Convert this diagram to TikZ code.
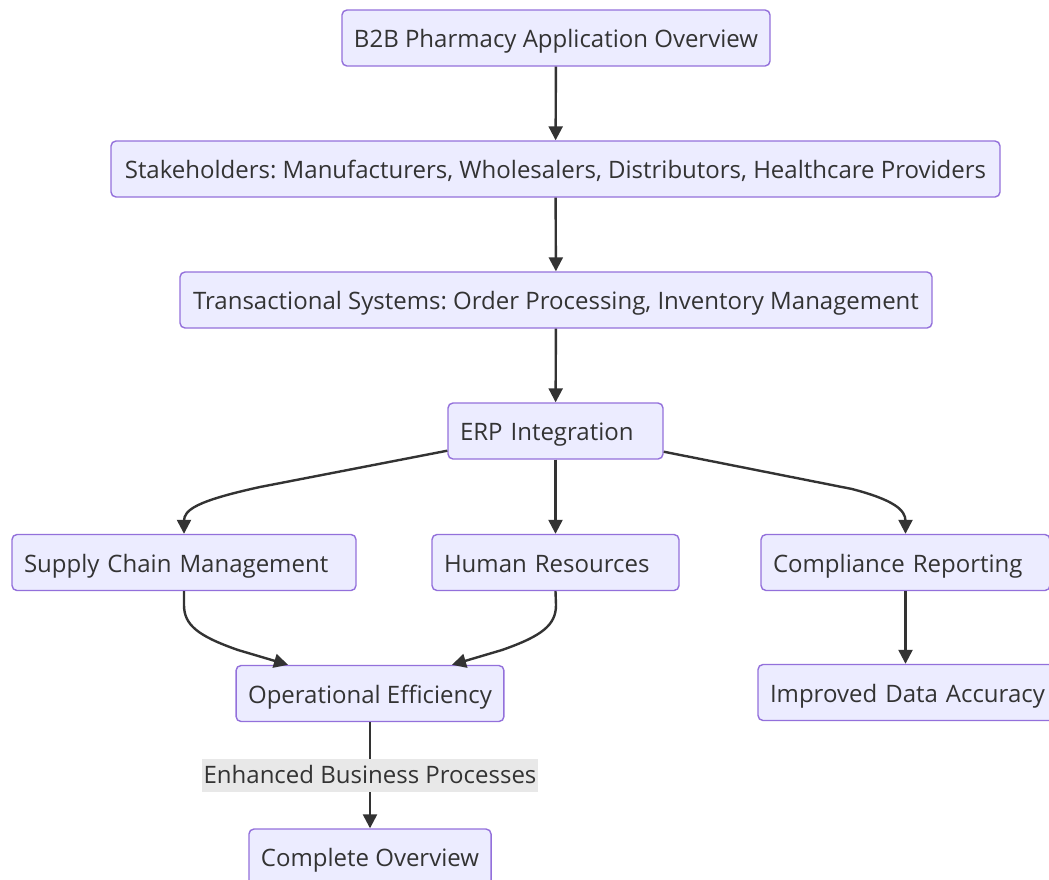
\documentclass[tikz,border=0pt]{standalone}
\usepackage{fontspec}
\setmainfont{Open Sans}
\frenchspacing
\usetikzlibrary{arrows.meta}
\definecolor{boxfill}{HTML}{ECECFF}
\definecolor{boxline}{HTML}{9370DB}
\definecolor{ink}{HTML}{333333}
\definecolor{labelbg}{HTML}{E8E8E8}
\begin{document}
\begin{tikzpicture}[x=1pt,y=-1pt,
  box/.style={draw=boxline, fill=boxfill, line width=1.4pt, rounded corners=5pt,
    minimum height=56pt, inner xsep=12pt, inner ysep=0pt, text=ink,
    text height=21pt, text depth=2pt,
    font=\fontsize{24}{28}\selectfont},
  lbox/.style={box, align=left},
  cbox/.style={box, align=center},
  edge/.style={draw=ink, line width=2.4pt, -{Triangle[width=14pt,length=14pt]}},
  elabel/.style={fill=labelbg, text=ink, inner xsep=2pt, inner ysep=0pt,
    minimum height=33pt, text height=19pt, text depth=3pt,
    font=\fontsize{24}{28}\selectfont}]
\useasboundingbox (0,0) rectangle (1049,879);
\clip (0,0) rectangle (1049,879);

% nodes
\node[cbox, minimum width=428pt] (b2b) at (556,38) {B2B Pharmacy Application Overview};
\node[cbox, minimum width=889pt] (stake) at (555.5,169) {Stakeholders: Manufacturers, Wholesalers, Distributors, Healthcare Providers};
\node[cbox, minimum width=752pt] (trans) at (556,300) {Transactional Systems: Order Processing, Inventory Management};
\node[lbox, text width=191pt] (erp) at (555.5,431) {ERP Integration};
\node[lbox, text width=320pt] (scm) at (184,562.5) {Supply Chain Management};
\node[lbox, text width=223pt] (hr) at (555.5,562.5) {Human Resources};
\node[lbox, text width=265pt] (comp) at (905.5,562.5) {Compliance Reporting};
\node[cbox, minimum width=266pt] (opeff) at (370,693.5) {Operational Efficiency};
\node[lbox, text width=296pt] (acc) at (918,692.5) {Improved Data Accuracy};
\node[cbox, minimum width=242pt] (done) at (370,857) {Complete Overview};

% connectors
\draw[edge] (b2b) -- (stake);
\draw[edge] (stake) -- (trans);
\draw[edge] (trans) -- (erp);
\draw[edge] (erp) -- (hr);
\draw[edge] ([yshift=9pt]erp.south west) -- (260,487)
  .. controls (196,501) and (184,510) .. (184,521) -- (scm.north);
\draw[edge] ([yshift=8pt]erp.south east) -- (852,489)
  .. controls (894,500) and (905.5,510) .. (905.5,521) -- (comp.north);
\draw[edge] (scm.south) -- (184,605)
  .. controls (184,625) and (198,636) .. (238,650) -- ([xshift=-82pt]opeff.north);
\draw[edge] (hr.south) -- (556,605)
  .. controls (556,625) and (542,636) .. (502,650) -- ([xshift=82pt]opeff.north);
\draw[edge] (comp.south) -- (comp.south |- acc.north);
\draw[edge] (opeff) -- node[elabel] {Enhanced Business Processes} (done);
\end{tikzpicture}
\end{document}
